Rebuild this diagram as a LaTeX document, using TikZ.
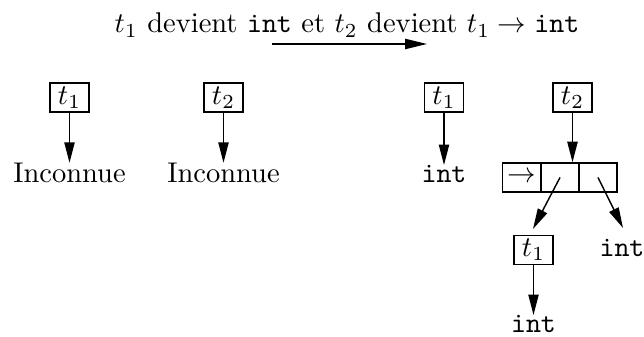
\documentclass[tikz,border=0pt]{standalone}
\usetikzlibrary{arrows.meta}
\begin{document}
\begin{tikzpicture}[x=0.3509pt,y=-0.3509pt,
  line width=0.5pt,
  tbox/.style={draw,minimum width=13.7pt,minimum height=10.2pt,inner sep=0pt},
  cell/.style={draw,minimum width=13.3pt,minimum height=10.2pt,inner sep=0pt},
  lbl/.style={anchor=base,inner sep=0pt},
  arr/.style={-{Triangle[length=7.2pt,width=3.6pt]}}]
\useasboundingbox (0,0) rectangle (644,337);
% title
\node[lbl] (title) at (347,33) {$t_1$ devient \texttt{int} et $t_2$ devient $t_1\rightarrow\texttt{int}$};
\coordinate (a0) at (272,44);
\coordinate (a1) at (427,44);
\draw[-{Triangle[length=7.7pt,width=3.6pt]}] (a0) -- (a1);
% left part
\node[tbox] (la) at (69.5,97.5) {$t_1$};
\node[tbox] (lb) at (223.5,97.5) {$t_2$};
\node[lbl] (ia) at (69.5,183) {Inconnue};
\node[lbl] (ib) at (223.5,183) {Inconnue};
\draw[arr] (la) -- (ia.north);
\draw[arr] (lb) -- (ib.north);
% right part
\node[tbox] (ra) at (444,97.5) {$t_1$};
\node[lbl] (inta) at (444,183) {\texttt{int}};
\draw[arr] (ra) -- (inta.north);
\node[tbox] (rb) at (572.5,97.5) {$t_2$};
\node[cell] (c1) at (521.5,177.5) {$\rightarrow$};
\node[cell] (c2) at (560,177.5) {};
\node[cell] (c3) at (598,177.5) {};
\draw[arr] (rb) -- (rb |- c2.north);
\node[tbox] (rc) at (533.5,250) {$t_1$};
\node[lbl] (intb) at (622,257) {\texttt{int}};
\node[lbl] (intc) at (533.5,333) {\texttt{int}};
\coordinate (e2) at (533,229);
\coordinate (e3) at (623,228);
\draw[arr] (c2.center) -- (e2);
\draw[arr] (c3.center) -- (e3);
\draw[arr] (rc) -- (intc.north);
\end{tikzpicture}
\end{document}
